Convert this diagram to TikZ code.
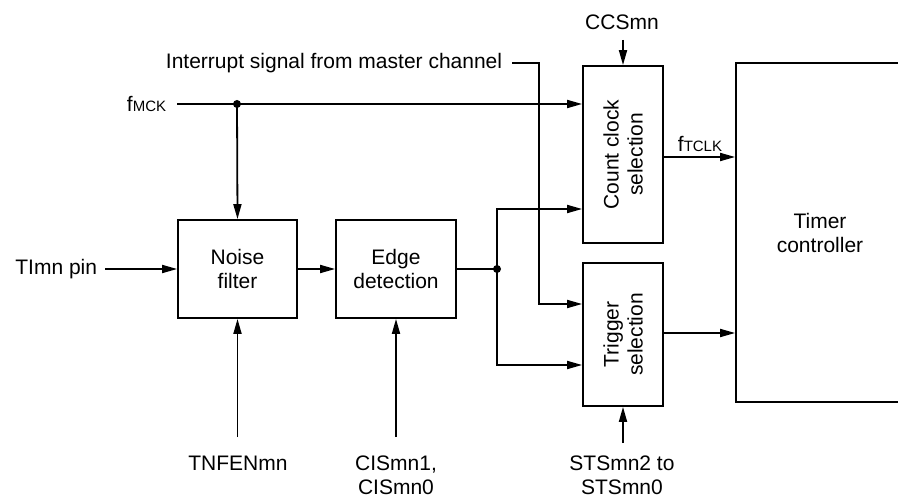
\documentclass[tikz,border=0pt]{standalone}
\usepackage{fontspec}
\setmainfont{Liberation Sans}
\usetikzlibrary{arrows.meta}
\newcommand{\subtxt}[1]{{\fontsize{15}{15}\selectfont #1}}
\begin{document}
\begin{tikzpicture}[x=1pt,y=-1pt,
  line width=1.8pt,
  >={Triangle[length=15pt,width=8pt]},
  txt/.style={font=\fontsize{21}{24}\selectfont, inner sep=0pt, align=center},
  blk/.style={draw, line width=1.8pt, inner sep=0pt, align=center, font=\fontsize{21}{24}\selectfont},
  dot/.style={circle, fill, inner sep=0pt, minimum size=8pt}]
\useasboundingbox (0,0) rectangle (898,497);

% blocks
\node[blk, minimum width=119pt, minimum height=98pt] (nf) at (237.5,269) {Noise\\filter};
\node[blk, minimum width=120pt, minimum height=98pt] (ed) at (396,269) {Edge\\detection};
\node[blk, minimum width=80pt, minimum height=177pt] (ccs) at (623,154.5) {};
\node[txt, rotate=90] at (ccs.center) {Count clock\\selection};
\node[blk, minimum width=80pt, minimum height=143pt] (trg) at (623,334.5) {};
\node[txt, rotate=90] at (trg.center) {Trigger\\selection};
\node[blk, minimum width=168pt, minimum height=339pt] (tc) at (820,232.5) {Timer\\controller};

% labels
\node[txt, anchor=east] (fmck) at (167,104) {f\subtxt{MCK}};
\node[txt, anchor=east] (timn) at (98,269) {TImn pin};
\node[txt, anchor=east] (intr) at (503,63) {Interrupt signal from master channel};
\node[txt] (ccsmn) at (622,22) {CCSmn};
\node[txt] (ftclk) at (700,144) {f\subtxt{TCLK}};
\node[txt] (tnfen) at (238,463) {TNFENmn};
\node[txt] (cis) at (396,475) {CISmn1,\\CISmn0};
\node[txt] (sts) at (622,475) {STSmn2 to\\STSmn0};

% free ends
\coordinate (fmckS) at (177,104);
\coordinate (jm) at (237,104);
\coordinate (timS) at (105,269);
\coordinate (js) at (497,269);
\coordinate (intS) at (512,63);
\coordinate (intC) at (539,63);
\coordinate (ccsS) at (623,40);
\coordinate (tnS) at (237.5,437);
\coordinate (ciS) at (396,437);
\coordinate (stsS) at (623,443);

% connectors
\draw[->] (fmckS) -- (fmckS -| ccs.west);
\draw[->] (jm) -- (nf.north);
\draw[->] (timS) -- (nf.west);
\draw[->] (nf.east) -- (ed.west);
\draw (ed.east) -- (js);
\draw[->] (js) |- (ccs.west |- 0,209);
\draw[->] (js) |- (trg.west |- 0,365);
\draw[->] (intS) -- (intC) -- (intC |- 0,304) -- (trg.west |- 0,304);
\draw[->] (ccsS) -- (ccs.north);
\draw[->] (ccs.east |- 0,157) -- (tc.west |- 0,157);
\draw[->] (trg.east |- 0,333) -- (tc.west |- 0,333);
\draw[->] (stsS) -- (trg.south);
\draw[->] (tnS) -- (nf.south);
\draw[->] (ciS) -- (ed.south);
\node[dot] at (jm) {};
\node[dot] at (js) {};
\end{tikzpicture}
\end{document}
